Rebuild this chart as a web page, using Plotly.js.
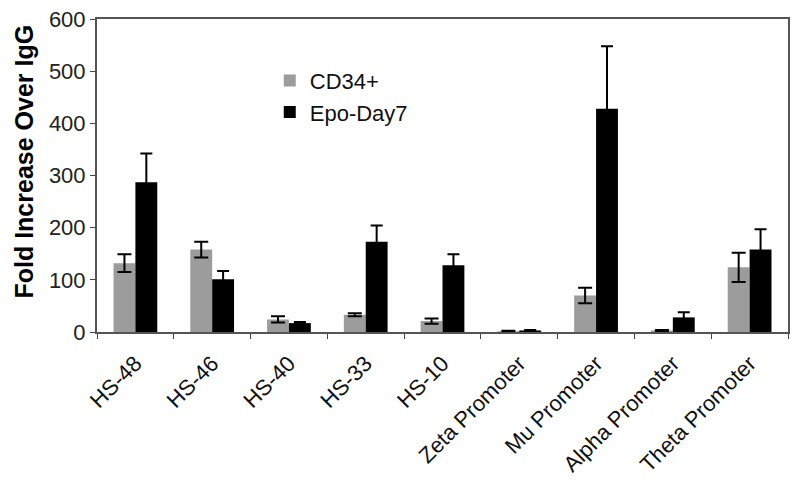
<!DOCTYPE html>
<html>
<head>
<meta charset="utf-8">
<script src="https://cdn.plot.ly/plotly-3.0.1.min.js"></script>
<style>
  html, body { margin: 0; padding: 0; background: #fff; }
  #chart { width: 800px; height: 497px; }
</style>
</head>
<body>
<div id="chart"></div>
<script>
// Regionen / Promotoren
const categories = ['HS-48', 'HS-46', 'HS-40', 'HS-33', 'HS-10',
    'Zeta Promoter', 'Mu Promoter', 'Alpha Promoter', 'Theta Promoter'];

// CD34+ (grau)
const cd34Values = [132, 158, 24, 33, 21, 1.5, 70, 3, 124];
const cd34Errors = [17, 15, 6, 3, 5, 1, 15, 1, 28];

// Epo-Day7 (schwarz)
const epoValues = [287, 101, 17, 173, 128, 3, 428, 28, 158];
const epoErrors = [55, 16, 2, 31, 21, 1, 120, 10, 39];

const yTicks = [0, 100, 200, 300, 400, 500, 600];

const traces = [
    {
        x: categories,
        y: cd34Values,
        type: 'bar',
        name: 'CD34+',
        marker: { color: '#9c9c9c' },
        error_y: { type: 'data', array: cd34Errors, color: '#000', thickness: 2, width: 7 }
    },
    {
        x: categories,
        y: epoValues,
        type: 'bar',
        name: 'Epo-Day7',
        marker: { color: '#000' },
        error_y: { type: 'data', array: epoErrors, color: '#000', thickness: 2, width: 6 }
    }
];

const layout = {
    width: 800,
    height: 497,
    paper_bgcolor: '#fff',
    plot_bgcolor: '#fff',
    margin: { l: 97, r: 12, t: 19, b: 165 },
    barmode: 'group',
    bargap: 0.43,
    bargroupgap: 0,
    font: { family: 'Liberation Sans, Arial, sans-serif', color: '#000' },
    showlegend: true,
    legend: {
        x: 0.25,
        y: 0.87,
        xanchor: 'left',
        yanchor: 'top',
        bgcolor: 'rgba(0,0,0,0)',
        font: { size: 22, color: '#111' },
        tracegroupgap: 4
    },
    xaxis: {
        type: 'category',
        tickson: 'boundaries',
        ticks: 'outside',
        ticklen: 5,
        tickcolor: '#444',
        tickangle: -45,
        ticklabelstandoff: 8,
        tickfont: { size: 22, color: '#111' },
        showline: true,
        linecolor: '#555',
        linewidth: 2,
        mirror: true,
        showgrid: false,
        fixedrange: true
    },
    yaxis: {
        range: [0, 600],
        tickmode: 'array',
        tickvals: yTicks,
        ticks: 'outside',
        ticklen: 5,
        tickcolor: '#444',
        tickfont: { size: 22, color: '#222' },
        showline: true,
        linecolor: '#555',
        linewidth: 2,
        mirror: true,
        showgrid: false,
        zeroline: false,
        fixedrange: true
    },
    // Achsentitel als Annotation, etwas nach oben versetzt wie im Original
    annotations: [{
        text: '<b>Fold Increase Over IgG</b>',
        xref: 'paper',
        yref: 'paper',
        x: -0.105,
        y: 0.546,
        xanchor: 'center',
        yanchor: 'middle',
        textangle: -90,
        showarrow: false,
        font: { size: 25, color: '#000' }
    }]
};

Plotly.newPlot('chart', traces, layout, { displayModeBar: false, staticPlot: true });
</script>
</body>
</html>
